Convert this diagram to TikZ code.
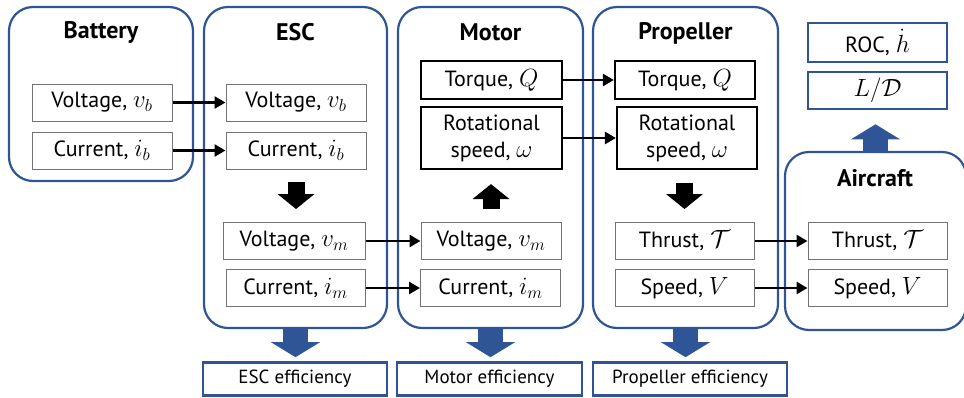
\documentclass[tikz,border=0pt]{standalone}
\usepackage{amsmath}
\usepackage{fontspec}
\setmainfont{PT Sans}
\usetikzlibrary{arrows.meta}
\definecolor{frameblue}{HTML}{2F5597}
\DeclareMathSizes{22}{24}{18}{14}

\begin{document}
\begin{tikzpicture}[x=1pt, y=-1pt,
    unitbox/.style={draw=frameblue, line width=2.2pt, rounded corners=24pt},
    title/.style={font=\fontsize{24}{28}\selectfont\bfseries},
    var/.style={draw=black!55, line width=1pt, fill=white, minimum width=140pt, minimum height=37pt, inner sep=0pt, font=\fontsize{22}{27}\selectfont},
    strong/.style={var, draw=black, line width=2.2pt},
    result/.style={var, draw=frameblue, line width=2.6pt},
    eff/.style={result, minimum height=33pt, font=\fontsize{19}{22}\selectfont},
    flow/.style={line width=2.6pt, -{Triangle[length=11pt, width=12pt]}},
    blk/.style={line width=17pt, -{Triangle[length=15pt, width=37pt, line width=0pt]}},
    bblk/.style={frameblue, line width=25pt, -{Triangle[length=15pt, width=49pt, line width=0pt]}}]
    \useasboundingbox (0,0) rectangle (964,397);
    \node[unitbox, minimum width=184pt, minimum height=174pt] (battery) at (101,94) {};
    \node[unitbox, minimum width=183pt, minimum height=321pt] (esc) at (295.5,167.5) {};
    \node[unitbox, minimum width=185pt, minimum height=321pt] (motor) at (490.5,167.5) {};
    \node[unitbox, minimum width=185pt, minimum height=321pt] (prop) at (685.5,167.5) {};
    \node[unitbox, minimum width=181pt, minimum height=178pt] (aircraft) at (875.5,241) {};
    \node[title] (batteryT) at (101,32) {Battery};
    \node[title] (escT) at (295.5,32) {ESC};
    \node[title] (motorT) at (490.5,32) {Motor};
    \node[title] (propT) at (685.5,33) {Propeller};
    \node[title] (aircraftT) at (875,178) {Aircraft};
    \node[var] (bv) at (102,102.5) {Voltage, $v_b$};
    \node[var] (bc) at (102,150.5) {Current, $i_b$};
    \node[var] (ev) at (296,102.5) {Voltage, $v_b$};
    \node[var] (ec) at (296,150.5) {Current, $i_b$};
    \node[var, minimum width=142pt] (evm) at (294,241) {Voltage, $v_m$};
    \node[var, minimum width=139pt] (ecm) at (295.5,288) {Current, $i_m$};
    \node[var] (mvm) at (491,241) {Voltage, $v_m$};
    \node[var] (mcm) at (490.5,288) {Current, $i_m$};
    \node[strong, minimum width=141pt, minimum height=38pt] (mt) at (491.5,80) {Torque, $Q$};
    \node[strong, minimum width=141pt, minimum height=62pt, align=center] (mw) at (491.5,138) {Rotational\\speed, $\omega$};
    \node[strong, minimum height=38pt] (pt) at (685,80) {Torque, $Q$};
    \node[strong, minimum height=62pt, align=center] (pw) at (687,138) {Rotational\\speed, $\omega$};
    \node[var, minimum width=139pt] (pth) at (684.5,241) {Thrust, $\mathcal{T}$};
    \node[var, minimum width=139pt] (ps) at (684.5,288) {Speed, $V$};
    \node[var, minimum width=139pt] (ath) at (877.5,241) {Thrust, $\mathcal{T}$};
    \node[var, minimum width=139pt] (as) at (877.5,288) {Speed, $V$};
    \node[result, minimum width=139pt, minimum height=39pt] (roc) at (877.5,42.5) {ROC, $\dot{h}$};
    \node[result, minimum width=139pt] (ld) at (877.5,90.5) {$L/\mathcal{D}$};
    \node[eff, minimum width=184pt] (escE) at (295,379) {ESC efficiency};
    \node[eff, minimum width=185pt] (motorE) at (489.5,379) {Motor efficiency};
    \node[eff, minimum width=194pt] (propE) at (690,379) {Propeller efficiency};
    \draw[flow] (bv) -- (ev);
    \draw[flow] (bc) -- (ec);
    \draw[flow] (evm) -- (mvm);
    \draw[flow] (ecm) -- (mcm);
    \draw[flow] (mt) -- (pt);
    \draw[flow] (mw) -- (pw);
    \draw[flow] (pth) -- (ath);
    \draw[flow] (ps) -- (as);
    \draw[blk, shorten <=12pt, shorten >=13pt] (ec.south) -- (ec.south |- evm.north);
    \draw[blk, shorten <=13pt, shorten >=14pt] (mvm.north) -- (mvm.north |- mw.south);
    \draw[blk, shorten <=13pt, shorten >=13pt] (pw.south -| pth.north) -- (pth.north);
    \draw[bblk, shorten >=4pt] (esc.south) -- (esc.south |- escE.north);
    \draw[bblk, shorten >=4pt] (motor.south) -- (motor.south |- motorE.north);
    \draw[bblk, shorten >=4pt] (prop.south) -- (prop.south |- propE.north);
    \draw[bblk, shorten >=14pt] (aircraft.north) -- (aircraft.north |- ld.south);
\end{tikzpicture}
\end{document}
